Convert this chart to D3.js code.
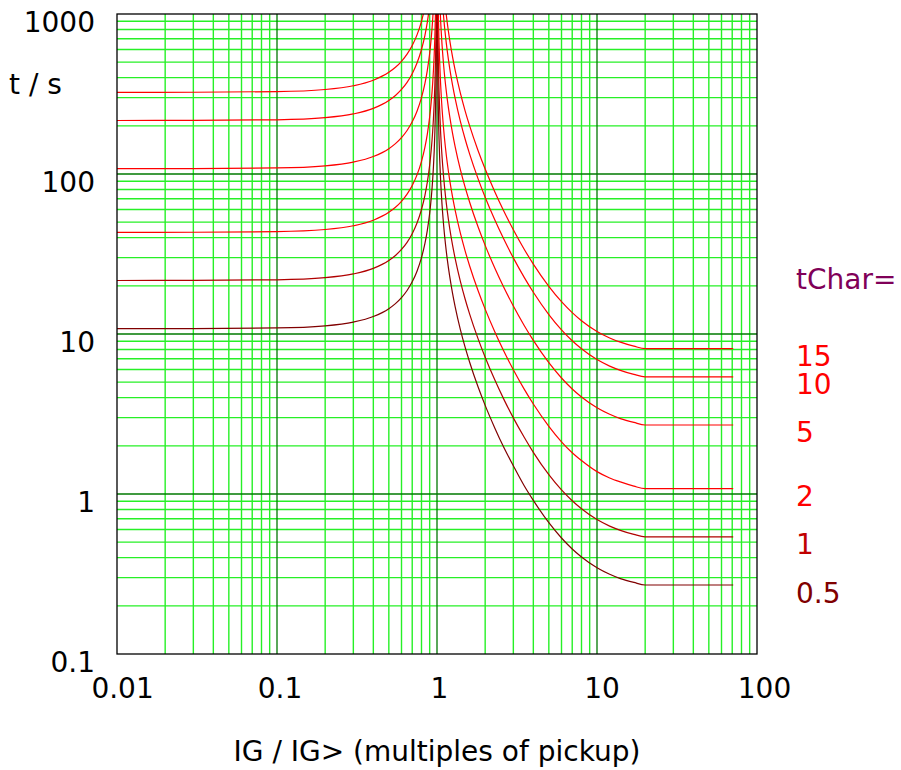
<!DOCTYPE html>
<html>
<head>
<meta charset="utf-8">
<script src="https://cdn.jsdelivr.net/npm/d3@7/dist/d3.min.js"></script>
<style>
  html, body { margin: 0; padding: 0; background: #fff; }
  svg { display: block; }
  text { font-family: "DejaVu Sans", sans-serif; }
</style>
</head>
<body>
<svg id="chart" width="901" height="770"></svg>
<script>
// ---------- DATA ----------
const xTickValues = [0.01, 0.1, 1, 10, 100];
const xTickLabels = ["0.01", "0.1", "1", "10", "100"];
const yTickValues = [1000, 100, 10, 1, 0.1];
const yTickLabels = ["1000", "100", "10", "1", "0.1"];
const minorMultipliers = [2, 3, 4, 5, 6, 7, 8, 9];

const tCharValues = ["15", "10", "5", "2", "1", "0.5"];

// current multiples (I / I>) below pickup
const leftI = [0.01, 0.03, 0.1, 0.2, 0.3, 0.4, 0.5, 0.55, 0.6, 0.65, 0.7, 0.75, 0.8,
  0.84, 0.87, 0.9, 0.92, 0.94, 0.95, 0.96, 0.97, 0.98, 0.985, 0.99, 0.995];
// current multiples above pickup
const rightI = [1.002, 1.005, 1.01, 1.02, 1.03, 1.05, 1.07, 1.1, 1.13, 1.16, 1.2, 1.25,
  1.3, 1.4, 1.5, 1.6, 1.8, 2, 2.3, 2.6, 3, 3.5, 4, 5, 6, 7, 8, 10, 12, 14, 17, 20, 71];

// times in seconds (null = off the top of the chart)
const left15 = [324.0, 324.3, 327.3, 337.5, 356.1, 385.7, 432.0, 464.6, 506.3, 561.0, 635.3, 740.6, 900.0, 1100.6,
  null, null, null, null, null, null, null, null, null, null, null];
const left10 = [216.0, 216.2, 218.2, 225.0, 237.4, 257.1, 288.0, 309.7, 337.5, 374.0, 423.5, 493.7, 600.0, 733.7, 888.5, 1137,
  null, null, null, null, null, null, null, null, null];
const left5 = [108.0, 108.1, 109.1, 112.5, 118.7, 128.6, 144.0, 154.9, 168.8, 187.0, 211.8, 246.9, 300.0, 366.9, 444.3, 568.5,
  703.0, 928.0, 1107.5, null, null, null, null, null, null];
const left2 = [43.2, 43.24, 43.64, 45.0, 47.48, 51.42, 57.6, 61.94, 67.5, 74.8, 84.7, 98.74, 120.0, 146.7, 177.7, 227.4,
  281.2, 371.2, 443.0, 551.0, 731.0, 1091.0, null, null, null];
const left1 = [21.6, 21.62, 21.82, 22.5, 23.74, 25.71, 28.8, 30.97, 33.75, 37.4, 42.35, 49.37, 60.0, 73.37, 88.85, 113.7,
  140.6, 185.6, 221.5, 275.5, 365.5, 545.5, 725.4, 1085.4, null];
const left05 = [10.8, 10.81, 10.91, 11.25, 11.87, 12.86, 14.4, 15.49, 16.88, 18.7, 21.18, 24.69, 30.0, 36.69, 44.43, 56.85,
  70.3, 92.8, 110.75, 137.75, 182.75, 272.75, 362.7, 542.7, 1082.5];

const right15 = [null, null, null, null, null, null, null, 1436, 1090.8, 875.4, 689.1, 540.8, 442.2, 319.8, 247.4, 199.7,
  141.3, 107.4, 77.3, 59.4, 44.85, 34.0, 27.35, 19.85, 15.92, 13.6, 12.11, 10.38, 9.45, 8.89, 8.39, 8.10, 8.10];
const right10 = [null, null, null, null, null, null, 1385, 957.3, 727.2, 583.6, 459.4, 360.5, 294.8, 213.2, 164.9, 133.1,
  94.2, 71.57, 51.52, 39.62, 29.9, 22.68, 18.23, 13.23, 10.61, 9.07, 8.08, 6.92, 6.30, 5.93, 5.59, 5.40, 5.40];
const right5 = [null, null, null, null, 1644.5, 978, 692.5, 478.7, 363.6, 291.8, 229.7, 180.3, 147.4, 106.6, 82.45, 66.55,
  47.1, 35.79, 25.76, 19.81, 14.95, 11.34, 9.12, 6.62, 5.31, 4.53, 4.04, 3.46, 3.15, 2.96, 2.80, 2.70, 2.70];
const right2 = [null, null, 1991, 991, 657.8, 391.2, 277, 191.5, 145.4, 116.7, 91.88, 72.1, 58.96, 42.64, 32.98, 26.62,
  18.84, 14.31, 10.3, 7.92, 5.98, 4.54, 3.65, 2.65, 2.12, 1.81, 1.62, 1.38, 1.26, 1.19, 1.12, 1.08, 1.08];
const right1 = [null, 1995.5, 995.5, 495.5, 328.9, 195.6, 138.5, 95.73, 72.72, 58.36, 45.94, 36.05, 29.48, 21.32, 16.49, 13.31,
  9.42, 7.16, 5.15, 3.96, 2.99, 2.27, 1.82, 1.32, 1.06, 0.907, 0.808, 0.692, 0.630, 0.593, 0.559, 0.540, 0.540];
const right05 = [2498, 997.8, 497.8, 247.8, 164.5, 97.8, 69.25, 47.87, 36.36, 29.18, 22.97, 18.03, 14.74, 10.66, 8.25, 6.66,
  4.71, 3.58, 2.58, 1.98, 1.50, 1.13, 0.912, 0.662, 0.531, 0.453, 0.404, 0.346, 0.315, 0.296, 0.280, 0.270, 0.270];

// ---------- CHART ----------
const curves = [
  { label: tCharValues[0], left: left15, right: right15, color: "#ff0000", labelColor: "#ff0000" },
  { label: tCharValues[1], left: left10, right: right10, color: "#ff0000", labelColor: "#ff0000" },
  { label: tCharValues[2], left: left5, right: right5, color: "#ff0000", labelColor: "#ff0000" },
  { label: tCharValues[3], left: left2, right: right2, color: "#ff0000", labelColor: "#ff0000" },
  { label: tCharValues[4], left: left1, right: right1, color: "#b00000", labelColor: "#c00000" },
  { label: tCharValues[5], left: left05, right: right05, color: "#800000", labelColor: "#800000" }
];

const X0 = 117, X1 = 757, Y0 = 14, Y1 = 654;
const x = d3.scaleLog().domain([0.01, 100]).range([X0, X1]);
const y = d3.scaleLog().domain([0.1, 1000]).range([Y1, Y0]);

const svg = d3.select("#chart");

svg.append("defs").append("clipPath").attr("id", "plotclip")
  .append("rect").attr("x", X0).attr("y", Y0).attr("width", X1 - X0).attr("height", Y1 - Y0);

const grid = svg.append("g");

// minor grid values
const xMinor = [];
for (let i = 0; i < xTickValues.length - 1; i++)
  minorMultipliers.forEach(m => xMinor.push(xTickValues[i] * m));
const yMinor = [];
for (let i = 1; i < yTickValues.length; i++)
  minorMultipliers.forEach(m => yMinor.push(yTickValues[i] * m));

const minorColor = "#26f026";
const majorColor = "#007800";

grid.selectAll(".xminor").data(xMinor).enter().append("line")
  .attr("x1", d => x(d)).attr("x2", d => x(d)).attr("y1", Y0).attr("y2", Y1)
  .attr("stroke", minorColor).attr("stroke-width", 1.4);
grid.selectAll(".yminor").data(yMinor).enter().append("line")
  .attr("y1", d => y(d)).attr("y2", d => y(d)).attr("x1", X0).attr("x2", X1)
  .attr("stroke", minorColor).attr("stroke-width", 1.4);

grid.selectAll(".xmajor").data(xTickValues.slice(1, -1)).enter().append("line")
  .attr("x1", d => x(d)).attr("x2", d => x(d)).attr("y1", Y0).attr("y2", Y1)
  .attr("stroke", majorColor).attr("stroke-width", 1.3);
grid.selectAll(".ymajor").data(yTickValues.slice(1, -1)).enter().append("line")
  .attr("y1", d => y(d)).attr("y2", d => y(d)).attr("x1", X0).attr("x2", X1)
  .attr("stroke", majorColor).attr("stroke-width", 1.3);

// curves
const line = d3.line()
  .defined(d => d[1] != null)
  .x(d => x(d[0])).y(d => y(d[1]))
  .curve(d3.curveMonotoneX);

const cg = svg.append("g").attr("clip-path", "url(#plotclip)");
curves.slice().reverse().forEach(c => {
  cg.append("path")
    .attr("d", line(leftI.map((v, i) => [v, c.left[i]])))
    .attr("fill", "none").attr("stroke", c.color).attr("stroke-width", 1.2);
  cg.append("path")
    .attr("d", line(rightI.map((v, i) => [v, c.right[i]])))
    .attr("fill", "none").attr("stroke", c.color).attr("stroke-width", 1.2);
});

// border
svg.append("rect").attr("x", X0).attr("y", Y0).attr("width", X1 - X0).attr("height", Y1 - Y0)
  .attr("fill", "none").attr("stroke", "#000").attr("stroke-width", 1.3);

// tick labels
const fs = 28;
svg.selectAll(".ylab").data(yTickValues).enter().append("text")
  .attr("x", 95).attr("y", d => y(d) + 18)
  .attr("text-anchor", "end").attr("font-size", fs).attr("fill", "#000")
  .text((d, i) => yTickLabels[i]);

svg.selectAll(".xlab").data(xTickValues).enter().append("text")
  .attr("x", (d, i) => x(d) - 6.4 * xTickLabels[i].length).attr("y", 697.5)
  .attr("text-anchor", "start").attr("font-size", fs).attr("fill", "#000")
  .text((d, i) => xTickLabels[i]);

// axis titles
svg.append("text").attr("x", 437).attr("y", 761).attr("text-anchor", "middle")
  .attr("font-size", fs).attr("fill", "#000").text("IG / IG> (multiples of pickup)");
svg.append("text").attr("x", 9).attr("y", 93.5).attr("text-anchor", "start")
  .attr("font-size", fs).attr("fill", "#000").text("t / s");

// legend-like labels at right
svg.append("text").attr("x", 796).attr("y", 289).attr("font-size", fs)
  .attr("fill", "#800058").text("tChar=");
const labelBaselines = [366, 394.3, 442.3, 506, 554, 602.7];
curves.forEach((c, i) => {
  svg.append("text").attr("x", 796).attr("y", labelBaselines[i]).attr("font-size", fs)
    .attr("fill", c.labelColor).text(c.label);
});
</script>
</body>
</html>
